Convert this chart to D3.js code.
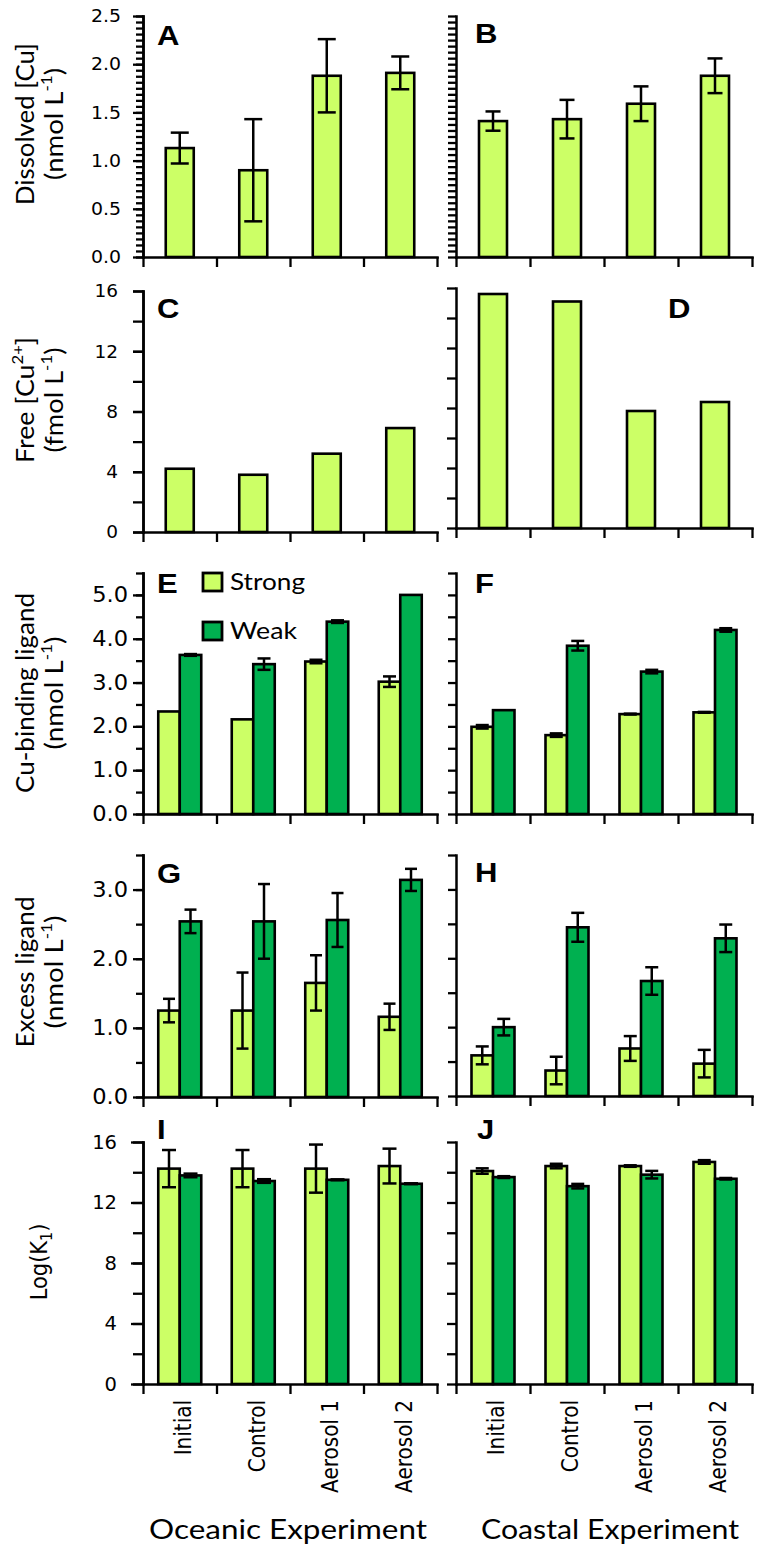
<!DOCTYPE html>
<html><head><meta charset="utf-8">
<script src="https://cdn.jsdelivr.net/npm/d3@7"></script>
<style>body{margin:0;background:#fff}svg{display:block}</style>
</head><body>
<svg id="chart" width="773" height="1556"></svg>
<script>
// ---------------- DATA ----------------
const categories = ["Initial", "Control", "Aerosol 1", "Aerosol 2"];
const ligandTypes = ["Strong", "Weak"];
const experiments = ["Oceanic Experiment", "Coastal Experiment"];

// A / B  Dissolved [Cu] (nmol L-1)
const dissolvedOceanic    = [1.13, 0.90, 1.88, 1.91];
const dissolvedOceanicErr = [0.16, 0.53, 0.38, 0.17];
const dissolvedCoastal    = [1.41, 1.43, 1.59, 1.88];
const dissolvedCoastalErr = [0.10, 0.20, 0.18, 0.18];

// C / D  Free [Cu2+] (fmol L-1)
const freeOceanic = [4.2, 3.8, 5.2, 6.9];
const freeCoastal = [15.6, 15.1, 7.8, 8.4];

// E / F  Cu-binding ligand (nmol L-1)
const ligandOceanicStrong    = [2.34, 2.16, 3.48, 3.02];
const ligandOceanicStrongErr = [0, 0, 0.04, 0.12];
const ligandOceanicWeak      = [3.63, 3.42, 4.39, 5.00];
const ligandOceanicWeakErr   = [0.02, 0.13, 0.03, 0];
const ligandCoastalStrong    = [1.99, 1.80, 2.28, 2.32];
const ligandCoastalStrongErr = [0.04, 0.04, 0.01, 0.01];
const ligandCoastalWeak      = [2.37, 3.84, 3.25, 4.20];
const ligandCoastalWeakErr   = [0, 0.11, 0.04, 0.04];

// G / H  Excess ligand (nmol L-1)
const excessOceanicStrong    = [1.25, 1.25, 1.65, 1.16];
const excessOceanicStrongErr = [0.17, 0.55, 0.40, 0.19];
const excessOceanicWeak      = [2.54, 2.54, 2.56, 3.14];
const excessOceanicWeakErr   = [0.17, 0.54, 0.39, 0.16];
const excessCoastalStrong    = [0.59, 0.37, 0.69, 0.47];
const excessCoastalStrongErr = [0.13, 0.20, 0.18, 0.20];
const excessCoastalWeak      = [1.00, 2.45, 1.67, 2.29];
const excessCoastalWeakErr   = [0.12, 0.21, 0.20, 0.20];

// I / J  Log(K1)
const logKOceanicStrong    = [14.24, 14.24, 14.24, 14.41];
const logKOceanicStrongErr = [1.23, 1.23, 1.59, 1.15];
const logKOceanicWeak      = [13.79, 13.42, 13.50, 13.24];
const logKOceanicWeakErr   = [0.12, 0.12, 0.03, 0.03];
const logKCoastalStrong    = [14.08, 14.41, 14.41, 14.68];
const logKCoastalStrongErr = [0.18, 0.15, 0.05, 0.12];
const logKCoastalWeak      = [13.68, 13.08, 13.84, 13.57];
const logKCoastalWeakErr   = [0.06, 0.15, 0.25, 0.05];

// ---------------- STYLE / LAYOUT ----------------
const LIGHT = "#CCFF66", DARK = "#00B050";
const colX = { L: [143, 437], R: [456, 752] };
const TICKFONT = "DejaVu Sans, Verdana, sans-serif";
const TITLEFONT = "Lato, 'Open Sans', sans-serif";
const svg = d3.select("#chart");

function single(vals, errs) { return [{ name: "Strong", vals, errs: errs || vals.map(() => 0), color: LIGHT }]; }
function pair(sv, se, wv, we) {
  return [{ name: "Strong", vals: sv, errs: se, color: LIGHT }, { name: "Weak", vals: wv, errs: we, color: DARK }];
}

const panels = [
  { key: "A", col: "L", top: 16, bottom: 257, domain: [0, 2.5], major: d3.range(0, 2.51, 0.5), minor: d3.range(0, 2.51, 0.0625),
    majLen: 10, minLen: 7, fmt: ".1f", fs: 18, sx: 1.05, off: 22, series: single(dissolvedOceanic, dissolvedOceanicErr), cap: 18, letter: [157, 45] },
  { key: "B", col: "R", top: 16, bottom: 257, domain: [0, 2.5], minor: d3.range(0, 2.51, 0.0625), minLen: 8,
    series: single(dissolvedCoastal, dissolvedCoastalErr), cap: 15, letter: [475, 43] },
  { key: "C", col: "L", top: 291, bottom: 532, domain: [0, 16], major: d3.range(0, 16.1, 4), minor: d3.range(0, 16.1, 2),
    majLen: 10, minLen: 10, fmt: "d", fs: 18.5, sx: 1.0, off: 25, series: single(freeOceanic), cap: 13, letter: [157, 318] },
  { key: "D", col: "R", top: 288, bottom: 528, domain: [0, 16], minor: d3.range(0, 16.1, 2), minLen: 9,
    series: single(freeCoastal), cap: 13, letter: [668, 318] },
  { key: "E", col: "L", top: 573, bottom: 814, domain: [0, 5.5], major: d3.range(0, 5.01, 1), minor: d3.range(0, 5.51, 0.5),
    majLen: 10, minLen: 7, fmt: ".1f", fs: 20.5, sx: 1.1, off: 15,
    series: pair(ligandOceanicStrong, ligandOceanicStrongErr, ligandOceanicWeak, ligandOceanicWeakErr), cap: 13, letter: [157, 593] },
  { key: "F", col: "R", top: 573, bottom: 814, domain: [0, 5.5], minor: d3.range(0, 5.51, 0.5), minLen: 8,
    series: pair(ligandCoastalStrong, ligandCoastalStrongErr, ligandCoastalWeak, ligandCoastalWeakErr), cap: 13, letter: [475, 593] },
  { key: "G", col: "L", top: 855, bottom: 1097, domain: [0, 3.5], major: d3.range(0, 3.01, 1), minor: d3.range(0, 3.51, 0.5),
    majLen: 10, minLen: 7, fmt: ".1f", fs: 20.5, sx: 1.1, off: 15,
    series: pair(excessOceanicStrong, excessOceanicStrongErr, excessOceanicWeak, excessOceanicWeakErr), cap: 12, letter: [157, 883] },
  { key: "H", col: "R", top: 855, bottom: 1096, domain: [0, 3.5], minor: d3.range(0, 3.51, 0.5), minLen: 8,
    series: pair(excessCoastalStrong, excessCoastalStrongErr, excessCoastalWeak, excessCoastalWeakErr), cap: 13, letter: [475, 882] },
  { key: "I", col: "L", top: 1142, bottom: 1384, domain: [0, 16], major: d3.range(0, 16.1, 4), minor: d3.range(0, 16.1, 2),
    majLen: 12, minLen: 10, fmt: "d", fs: 19.5, sx: 1.0, off: 26,
    series: pair(logKOceanicStrong, logKOceanicStrongErr, logKOceanicWeak, logKOceanicWeakErr), cap: 14, letter: [157, 1139] },
  { key: "J", col: "R", top: 1142, bottom: 1384, domain: [0, 16], minor: d3.range(0, 16.1, 2), minLen: 9,
    series: pair(logKCoastalStrong, logKCoastalStrongErr, logKCoastalWeak, logKCoastalWeakErr), cap: 13, letter: [477, 1139] }
];

function styleAxis(sel) {
  sel.selectAll("path").attr("stroke", "#000").attr("stroke-width", 2.5).attr("stroke-linecap", "square");
  sel.selectAll("line").attr("stroke", "#000").attr("stroke-width", 2.3);
}

function drawPanel(p) {
  const [x0, x1] = colX[p.col];
  const xb = d3.scaleBand().domain(categories).range([x0, x1]);
  const y = d3.scaleLinear().domain(p.domain).range([p.bottom, p.top]);
  const g = svg.append("g").attr("class", "panel-" + p.key);
  const bw = xb.bandwidth();
  const n = p.series.length;
  const inner = d3.scaleBand().domain(p.series.map(s => s.name))
    .range(n === 1 ? [-14, 14] : [-21.5, 21.5]);

  const rows = [];
  p.series.forEach(s => categories.forEach((c, i) => rows.push({ c, s: s.name, v: s.vals[i], e: s.errs[i], color: s.color })));

  g.selectAll("rect.bar").data(rows).join("rect").attr("class", "bar")
    .attr("x", d => xb(d.c) + bw / 2 + inner(d.s))
    .attr("width", inner.bandwidth())
    .attr("y", d => y(d.v))
    .attr("height", d => y(0) - y(d.v))
    .attr("fill", d => d.color)
    .attr("stroke", "#000").attr("stroke-width", 2.6);

  const errRows = rows.filter(d => d.e > 0);
  const cx = d => xb(d.c) + bw / 2 + inner(d.s) + inner.bandwidth() / 2;
  const eg = g.selectAll("g.err").data(errRows).join("g").attr("class", "err")
    .attr("stroke", "#000").attr("stroke-width", 2.5);
  eg.append("line").attr("x1", cx).attr("x2", cx).attr("y1", d => y(d.v - d.e)).attr("y2", d => y(d.v + d.e));
  eg.append("line").attr("x1", d => cx(d) - p.cap / 2).attr("x2", d => cx(d) + p.cap / 2)
    .attr("y1", d => y(d.v + d.e)).attr("y2", d => y(d.v + d.e));
  eg.append("line").attr("x1", d => cx(d) - p.cap / 2).attr("x2", d => cx(d) + p.cap / 2)
    .attr("y1", d => y(d.v - d.e)).attr("y2", d => y(d.v - d.e));

  // y axis: minor ticks
  const ym = g.append("g").attr("transform", `translate(${x0},0)`)
    .call(d3.axisLeft(y).tickValues(p.minor).tickSize(p.minLen).tickFormat("").tickSizeOuter(0));
  styleAxis(ym);
  if (p.major) {
    const yM = g.append("g").attr("transform", `translate(${x0},0)`)
      .call(d3.axisLeft(y).tickValues(p.major).tickSize(p.majLen).tickFormat(d3.format(p.fmt)).tickSizeOuter(0));
    styleAxis(yM);
    yM.selectAll("text").attr("font-family", TICKFONT).attr("font-size", p.fs).attr("fill", "#000")
      .attr("x", -p.off / p.sx).attr("transform", `scale(${p.sx},1)`);
  }
  // x axis: ticks at category boundaries
  const xl = d3.scaleLinear().domain([0, categories.length]).range([x0, x1]);
  const xa = g.append("g").attr("transform", `translate(0,${p.bottom})`)
    .call(d3.axisBottom(xl).tickValues(d3.range(0, categories.length + 1)).tickSize(10).tickFormat("").tickSizeOuter(0));
  styleAxis(xa);

  // panel letter
  g.append("text").attr("transform", `translate(${p.letter[0]},${p.letter[1]}) scale(1.15,1)`)
    .attr("font-family", "Liberation Sans, Arial, sans-serif").attr("font-weight", "bold")
    .attr("font-size", 27).attr("fill", "#000").text(p.key);
}
panels.forEach(drawPanel);

// ---------------- Y TITLES ----------------
function richText(parent, segs, fs) {
  const t = parent.append("text").attr("font-size", fs);
  let shift = 0;
  segs.forEach(s => {
    const ts = t.append("tspan").text(s.t);
    let target = 0;
    if (s.sup) { target = -fs * 0.42; ts.attr("font-size", fs * 0.62); }
    if (s.sub) { target = fs * 0.22; ts.attr("font-size", fs * 0.68); }
    if (target !== shift) { ts.attr("dy", target - shift); shift = target; }
  });
  return t;
}
const titles = [
  { cy: 124, lines: [[{ t: "Dissolved [Cu]" }], [{ t: "(nmol L" }, { t: "-1", sup: true }, { t: ")" }]], lens: [162, 112] },
  { cy: 400, lines: [[{ t: "Free [Cu" }, { t: "2+", sup: true }, { t: "]" }], [{ t: "(fmol L" }, { t: "-1", sup: true }, { t: ")" }]], lens: [126, 105] },
  { cy: 693, lines: [[{ t: "Cu-binding ligand" }], [{ t: "(nmol L" }, { t: "-1", sup: true }, { t: ")" }]], lens: [200, 113] },
  { cy: 972, lines: [[{ t: "Excess ligand" }], [{ t: "(nmol L" }, { t: "-1", sup: true }, { t: ")" }]], lens: [151, 113] }
];
const lineX = [34, 63];
titles.forEach(tt => {
  tt.lines.forEach((segs, li) => {
    const g = svg.append("g").attr("transform", `translate(${lineX[li]},${tt.cy}) scale(1.05,1) rotate(-90)`);
    const t = richText(g, segs, 24).attr("font-family", TITLEFONT).attr("text-anchor", "middle").attr("fill", "#000");
    t.attr("textLength", tt.lens[li]).attr("lengthAdjust", "spacingAndGlyphs");
  });
});
{
  const g = svg.append("g").attr("transform", `translate(47,1262) scale(1.1,1) rotate(-90)`);
  richText(g, [{ t: "Log(K" }, { t: "1", sub: true }, { t: ")" }], 21)
    .attr("font-family", TICKFONT).attr("text-anchor", "middle").attr("fill", "#000");
}

// ---------------- LEGEND (panel E) ----------------
const legendY = { Strong: 582, Weak: 631 };
ligandTypes.forEach((name, i) => {
  const col = i === 0 ? LIGHT : DARK;
  svg.append("rect").attr("x", 203).attr("y", legendY[name] - 9).attr("width", 19).attr("height", 18)
    .attr("fill", col).attr("stroke", "#000").attr("stroke-width", 2.8);
  svg.append("text").attr("x", 230).attr("y", legendY[name] + 8).attr("font-family", TITLEFONT)
    .attr("font-size", 23).attr("fill", "#000")
    .attr("textLength", name === "Strong" ? 75 : 67).attr("lengthAdjust", "spacingAndGlyphs").text(name);
});

// ---------------- CATEGORY LABELS & EXPERIMENT TITLES ----------------
["L", "R"].forEach((col, ci) => {
  const [x0, x1] = colX[col];
  const xb = d3.scaleBand().domain(categories).range([x0, x1]);
  svg.selectAll(null).data(categories).join("text")
    .attr("transform", d => `translate(${xb(d) + xb.bandwidth() / 2 + 3},1400) scale(1.18,1) rotate(-90)`)
    .attr("dy", "0.36em").attr("text-anchor", "end")
    .attr("font-family", TICKFONT).attr("font-size", 20).attr("fill", "#000").text(d => d);
  svg.append("text").attr("x", ci === 0 ? 288 : 610).attr("y", 1539).attr("text-anchor", "middle")
    .attr("font-family", TITLEFONT).attr("font-size", 27).attr("fill", "#000")
    .attr("textLength", ci === 0 ? 278 : 258).attr("lengthAdjust", "spacingAndGlyphs").text(experiments[ci]);
});
</script>
</body></html>
